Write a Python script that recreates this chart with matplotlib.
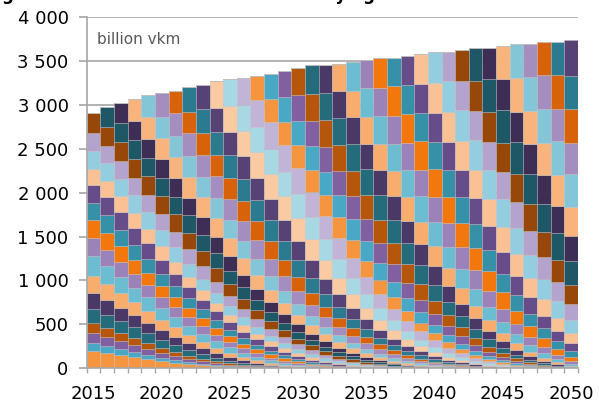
import numpy as np
import matplotlib.pyplot as plt

# --- data (billion vkm) ---
years = list(range(2015, 2051))

# height of each whole bar
total_vkm = [2903, 2975, 3017, 3067, 3109, 3131, 3154, 3200, 3223, 3269,
             3291, 3310, 3333, 3356, 3383, 3425, 3448, 3448, 3470, 3493,
             3512, 3535, 3535, 3558, 3581, 3604, 3604, 3627, 3650, 3650,
             3672, 3695, 3695, 3718, 3718, 3741]

# top block of each bar = cars of that year's vintage
new_vkm = [220, 220, 220, 250, 245, 265, 250, 277, 273, 307,
           304, 319, 279, 290, 304, 319, 327, 319, 319, 342,
           334, 356, 338, 350, 356, 368, 348, 361, 384, 364,
           387, 402, 383, 387, 379, 413]

# older vintages as stacked in the 2015 bar (2000 = 2000 and older)
old_vintages = list(range(2000, 2015))
old_vkm_2015 = [200, 91, 107, 114, 159, 182, 200, 224, 202, 200,
                198, 208, 182, 205, 202]

# remaining share of a vintage's activity by age, early years / 2050 bar
share_early = [1.0, 0.97, 0.97, 0.96, 0.95, 0.93, 0.92, 0.88, 0.83, 0.75,
               0.68, 0.63, 0.59, 0.54, 0.50, 0.46, 0.41, 0.36, 0.31, 0.26,
               0.21, 0.17, 0.13, 0.10, 0.07, 0.05, 0.03, 0.02, 0.01, 0.005]
share_late = [1.0, 1.0, 0.98, 0.95, 0.91, 0.86, 0.79, 0.70, 0.62, 0.52,
              0.40, 0.32, 0.26, 0.20, 0.14, 0.09, 0.06, 0.04, 0.025, 0.015,
              0.008, 0.004, 0.002, 0.001]

vintage_colors = ['#F5953F', '#48A8C5', '#8060A0',
                  '#B5560A', '#246B7C', '#4A3866', '#F8AC6E', '#6CBDD2', '#9B82B8',
                  '#F2780E', '#3690A8', '#664C88', '#FAC294', '#94CDE0', '#B4A3CC',
                  '#974709', '#1E5766', '#3E2D54', '#F8B47C', '#84C6D8', '#A48EC0',
                  '#D8620A', '#2B7A90', '#574276', '#FACBA3', '#A8D8E4', '#C2B4D6']

# --- build the vintage x year table ---
n_age = 60
early = np.pad(share_early, (0, n_age - len(share_early)))
late = np.pad(share_late, (0, n_age - len(share_late)))
vintages = old_vintages + years
seg = np.zeros((len(vintages), len(years)))
for j, y in enumerate(years):
    w = (y - years[0]) / (years[-1] - years[0])
    share = (1 - w) * early + w * late
    for i, v in enumerate(vintages):
        if v > y:
            continue
        if v < 2015:
            seg[i, j] = old_vkm_2015[i] * share[y - v] / early[2015 - v]
        else:
            seg[i, j] = new_vkm[v - 2015] * share[y - v]
    seg[:, j] *= total_vkm[j] / seg[:, j].sum()

# --- plot ---
plt.rcParams['font.family'] = 'DejaVu Sans'
fig = plt.figure(figsize=(5.99, 4.05), dpi=100)
ax = fig.add_axes([0.1447, 0.0906, 0.8203, 0.8674])

grey = '#A6A6A6'
bottom = np.zeros(len(years))
for i, v in enumerate(vintages):
    ax.bar(years, seg[i], width=1.0, bottom=bottom,
           color=vintage_colors[(v - 2000) % len(vintage_colors)],
           edgecolor=(0.75, 0.75, 0.75, 0.6), linewidth=0.4, zorder=2)
    bottom += seg[i]

ax.set_xlim(years[0] - 0.5, years[-1] + 0.5)
ax.set_ylim(0, 4000)
ax.set_yticks(range(0, 4001, 500))
ax.set_yticklabels([f"{v:,}".replace(",", " ") for v in range(0, 4001, 500)])
ax.set_xticks(range(2015, 2051, 5))
ax.set_xticks(np.arange(years[0] - 0.5, years[-1] + 0.6, 1.0), minor=True)

ax.grid(axis='y', color=grey, linewidth=1.2, zorder=0)
ax.set_axisbelow(True)
for s in ['top', 'right']:
    ax.spines[s].set_visible(False)
for s in ['left', 'bottom']:
    ax.spines[s].set_color(grey)
    ax.spines[s].set_linewidth(1.2)

ax.tick_params(axis='y', length=6, width=1.2, color=grey, pad=7, labelsize=13)
ax.tick_params(axis='x', which='major', length=0, pad=12, labelsize=13)
ax.tick_params(axis='x', which='minor', length=3.6, width=1.0, color=grey)

ax.text(0.02, 0.935, 'billion vkm', transform=ax.transAxes, fontsize=11,
        color='#595959', va='center', ha='left')

# title is cut off by the top edge in the source image
fig.text(-15 / 599, 1.0, 'Figure 3: Vehicle kilometres of cars by age',
         fontsize=12, fontweight='bold', va='baseline', ha='left')

fig.savefig('out.png', dpi=100)
